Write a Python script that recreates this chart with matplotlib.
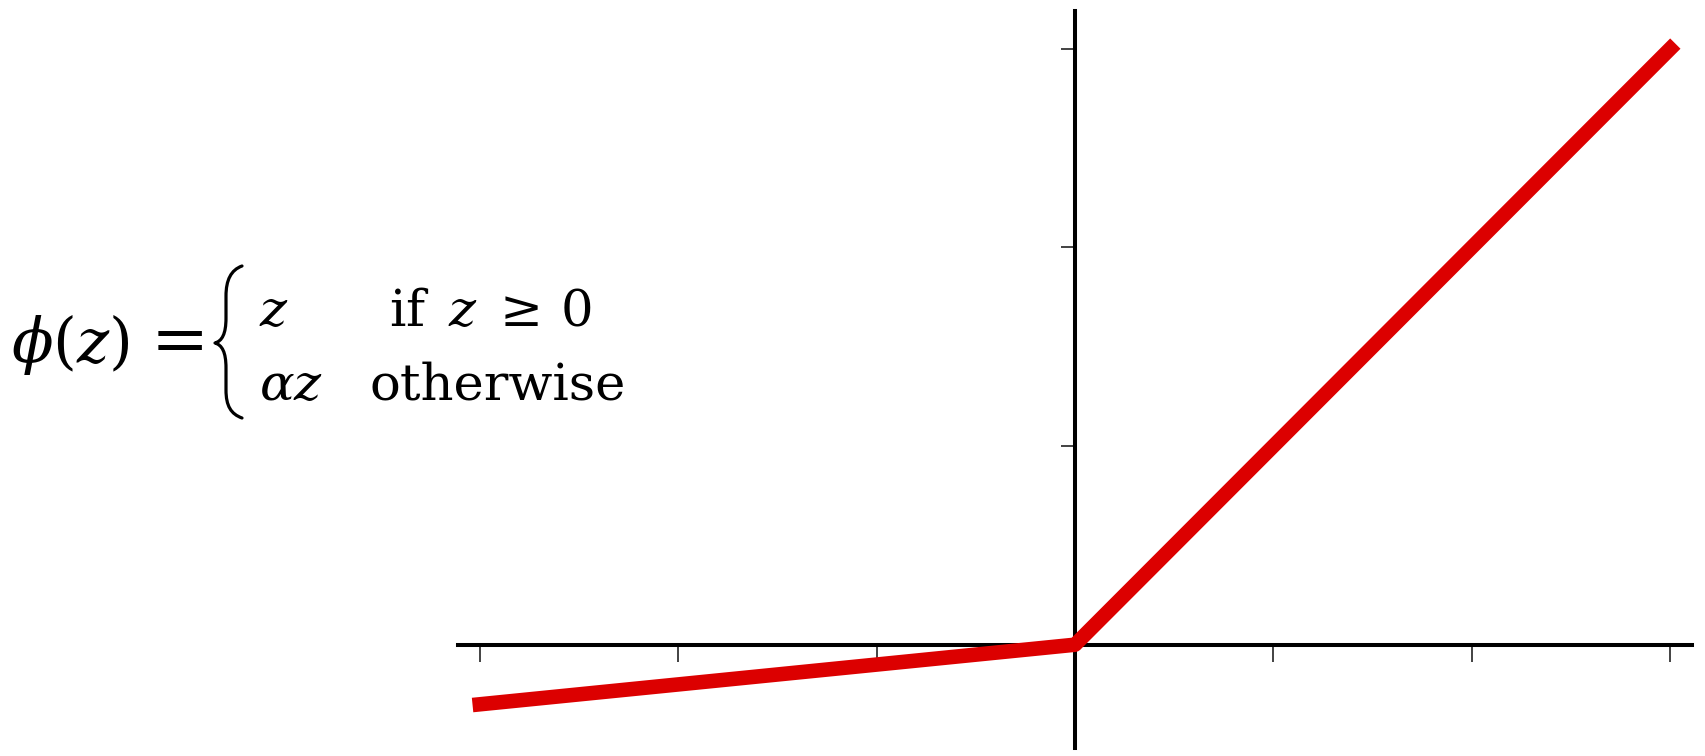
import numpy as np
import matplotlib
matplotlib.use("Agg")
import matplotlib.pyplot as plt
from matplotlib.path import Path
from matplotlib.patches import PathPatch

alpha = 0.1
z_knots = [-3.0, 0.0, 3.0]
x_ticks = [-3, -2, -1, 1, 2, 3]
y_ticks = [1, 2, 3]

phi = [z if z >= 0 else alpha * z for z in z_knots]

W, H = 1706, 756
plt.rcParams["mathtext.fontset"] = "dejavuserif"
fig = plt.figure(figsize=(W / 100, H / 100), dpi=100)

# axes placed so the spines cross where they do in the reference
ax = fig.add_axes([458 / W, 8 / H, 1234 / W, 737 / H])
ax.plot(z_knots, phi, color="#dc0000", lw=10.5, solid_capstyle="projecting",
        solid_joinstyle="round", zorder=3)
ax.set_xlim(-3.11, 3.11)
ax.set_ylim(-0.52, 3.19)

for side in ("top", "right"):
    ax.spines[side].set_visible(False)
for side in ("left", "bottom"):
    ax.spines[side].set_position(("data", 0))
    ax.spines[side].set_linewidth(2.9)
ax.set_xticks(x_ticks)
ax.set_yticks(y_ticks)
ax.tick_params(axis="x", direction="out", length=12, width=1.2, color="#222222",
               labelbottom=False)
ax.tick_params(axis="y", direction="out", length=10, width=1.2, color="#222222",
               labelleft=False)

# overlay in figure pixels for the equation
ov = fig.add_axes([0, 0, 1, 1])
ov.set_xlim(0, W)
ov.set_ylim(H, 0)
ov.axis("off")

fs = 37
def ptext(px, py, s, size=fs, **kw):
    ov.text(px, py, s, fontsize=size, va="baseline", family="DejaVu Serif", **kw)

ptext(11, 362, r"$\phi(z)$", size=44, ha="left")
ptext(151, 362, "=", size=50, ha="left")
ptext(259, 326, r"$z$", ha="left")
ptext(259, 400, r"$\alpha z$", ha="left")
ptext(490, 326, r"if $\,z\;\geq\,0$", ha="center")
ptext(498, 400, "otherwise", ha="center")

# curly brace, mathtext has no cases environment
verts = [(242, 266), (231, 270), (226, 280), (226, 296), (226, 318),
         (226, 334), (222, 341), (215, 343),
         (222, 345), (226, 352), (226, 368), (226, 390),
         (226, 406), (231, 414), (242, 418)]
codes = [Path.MOVETO, Path.CURVE4, Path.CURVE4, Path.CURVE4, Path.LINETO,
         Path.CURVE4, Path.CURVE4, Path.CURVE4,
         Path.CURVE4, Path.CURVE4, Path.CURVE4, Path.LINETO,
         Path.CURVE4, Path.CURVE4, Path.CURVE4]
ov.add_patch(PathPatch(Path(verts, codes), fill=False, lw=2.3, color="black",
                       capstyle="round", joinstyle="round"))

fig.savefig("out.png", dpi=100)
